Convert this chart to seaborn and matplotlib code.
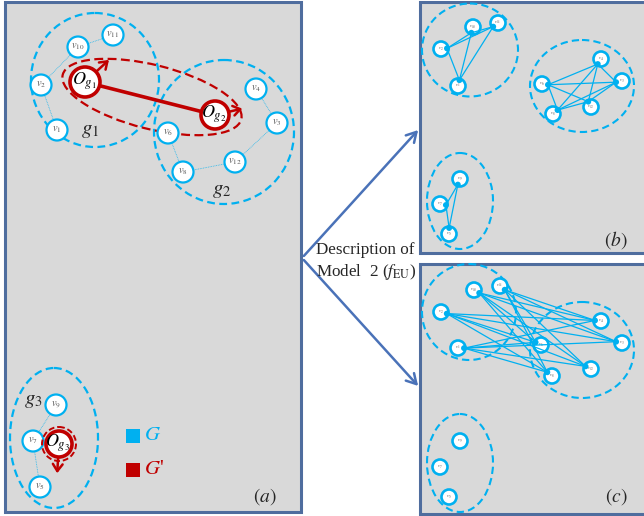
import numpy as np
import seaborn as sns
import matplotlib.pyplot as plt
from matplotlib.patches import Rectangle, Circle, Ellipse, FancyArrowPatch
from matplotlib.collections import LineCollection

sns.set_theme(style='white')
plt.rcParams['font.family'] = ['Liberation Serif', 'DejaVu Serif']
plt.rcParams['mathtext.fontset'] = 'stix'

BLUE = '#00b0f0'
RED = '#c00000'
FRAME = '#4f6d9e'
BG = '#d9d9d9'

# node positions (pixels) in panel (a), (b), (c)
names = ['1', '2', '10', '11', '4', '6', '3', '12', '8', '9', '7', '5']
group = [1, 1, 1, 1, 2, 2, 2, 2, 2, 3, 3, 3]
a_x = [57, 41, 78, 113, 256, 168, 277, 235, 183, 56, 33, 40]
a_y = [130, 85, 47, 35, 89, 133, 123, 162, 172, 405, 441, 487]
b_x = [458, 441, 473, 498, 601, 542, 622, 591, 553, 460, 440, 449]
b_y = [86, 49, 27, 23, 59, 84, 81, 107, 114, 179, 204, 234]
c_x = [458, 441, 474, 500, 601, 541, 622, 591, 552, 460, 440, 449]
c_y = [348, 312, 290, 286, 321, 345, 343, 369, 376, 441, 467, 497]

# dotted chain edges in panel (a)
a_edges = [('11', '10'), ('10', '2'), ('2', '1'), ('4', '3'), ('3', '12'),
           ('12', '8'), ('8', '6'), ('9', '7'), ('7', '5')]

# cluster outlines: centre x, centre y, width, height
a_clusters = [(95, 80, 128, 134), (224, 132, 140, 144), (54, 438, 88, 140)]
b_clusters = [(470, 50, 96, 93), (582, 86, 104, 92), (460, 201, 66, 96)]
c_clusters = [(469, 312, 94, 96), (582, 350, 104, 96), (460, 463, 66, 98)]

# group centres O_g
o_x = [85, 215, 59]
o_y = [82, 115, 444]
o_tip_x = [111, 245, 57]
o_tip_y = [58, 108, 476]

fig = plt.figure(figsize=(6.44, 5.16), dpi=100)
ax = fig.add_axes([0, 0, 1, 1])
ax.set_xlim(0, 644)
ax.set_ylim(516, 0)
ax.axis('off')

for x0, y0, x1, y1 in [(5, 2, 301, 512), (420, 2, 650, 253), (420, 264, 650, 514)]:
    ax.add_patch(Rectangle((x0, y0), x1 - x0, y1 - y0, facecolor=BG,
                           edgecolor=FRAME, lw=2.2, zorder=0))

pos_a = {n: (x, y) for n, x, y in zip(names, a_x, a_y)}
grp = dict(zip(names, group))


def draw_clusters(cl, lw):
    for cx, cy, w, h in cl:
        ax.add_patch(Ellipse((cx, cy), w, h, fill=False, edgecolor=BLUE,
                             lw=lw, ls=(0, (3.5, 2)), zorder=1))


def draw_nodes(xs, ys, r, fs, lw):
    for n, x, y in zip(names, xs, ys):
        ax.add_patch(Circle((x, y), r, facecolor='white', edgecolor=BLUE,
                            lw=lw, zorder=4))
        ax.text(x, y, r'$v_{%s}$' % n, fontsize=fs, color='#555555',
                ha='center', va='center', zorder=5)


# ---- panel (a)
draw_clusters(a_clusters, 1.6)
segs = [[pos_a[p], pos_a[q]] for p, q in a_edges]
ax.add_collection(LineCollection(segs, colors=BLUE, lw=0.6, ls=(0, (1, 1)),
                                 alpha=0.8, zorder=2))
draw_nodes(a_x, a_y, 10.5, 7.5, 1.6)

ax.add_patch(Ellipse((152, 97), 184, 64, angle=14, fill=False, edgecolor=RED,
                     lw=1.6, ls=(0, (4, 2)), zorder=3))
ax.plot([o_x[0], o_x[1]], [o_y[0], o_y[1]], color=RED, lw=2.6, zorder=3)
for i, r in enumerate([15, 14, 13]):
    ax.add_patch(Circle((o_x[i], o_y[i]), r, facecolor='white', edgecolor=RED,
                        lw=2.6, zorder=6))
    ax.add_patch(FancyArrowPatch((o_x[i], o_y[i]), (o_tip_x[i], o_tip_y[i]),
                                 arrowstyle='->,head_length=5,head_width=3.5',
                                 color=RED, lw=1.8, zorder=5))
    ax.text(o_x[i] - 1, o_y[i] - 1, r'$O_{g_{%d}}$' % (i + 1), fontsize=13,
            ha='center', va='center', color='black', zorder=7)
ax.add_patch(Circle((o_x[2], o_y[2]), 17, fill=False, edgecolor=RED,
                    lw=1.4, ls=(0, (3, 1.5)), zorder=6))

for lab, x, y in [('1', 90, 131), ('2', 222, 190), ('3', 33, 401)]:
    ax.text(x, y, r'$g_{%s}$' % lab, fontsize=15, ha='center', va='center')

sns.scatterplot(x=[133, 133], y=[436, 470], hue=['G', "G'"],
                palette=[BLUE, RED], marker='s', s=90, edgecolor='none',
                legend=False, ax=ax, zorder=6)
ax.text(144, 436, r'$G$', fontsize=15, color=BLUE, va='center')
ax.text(144, 470, r"$G$'", fontsize=15, color=RED, va='center')
ax.text(265, 497, r'$(a)$', fontsize=14, ha='center', va='center')

# ---- panels (b) and (c)


def dot_points(xs, ys, pairs, r):
    pts = {}
    for n, x, y in zip(names, xs, ys):
        nb = [q if p == n else p for p, q in pairs if n in (p, q)]
        if not nb:
            continue
        idx = [names.index(m) for m in nb]
        mx, my = np.mean([xs[k] for k in idx]), np.mean([ys[k] for k in idx])
        d = np.hypot(mx - x, my - y)
        pts[n] = (x + (mx - x) / d * r, y + (my - y) / d * r)
    return pts


b_pairs = [(p, q) for i, p in enumerate(names) for q in names[i + 1:]
           if grp[p] == grp[q]]
c_pairs = [(p, q) for p in names for q in names
           if grp[p] == 1 and grp[q] == 2]

for xs, ys, pairs, cl, lab, ly in [(b_x, b_y, b_pairs, b_clusters, '(b)', 240),
                                  (c_x, c_y, c_pairs, c_clusters, '(c)', 497)]:
    draw_clusters(cl, 1.5)
    draw_nodes(xs, ys, 7.5, 3.5, 1.9)
    pts = dot_points(xs, ys, pairs, 6)
    segs = [[pts[p], pts[q]] for p, q in pairs]
    ax.add_collection(LineCollection(segs, colors=BLUE, lw=0.9, zorder=6))
    sns.scatterplot(x=[v[0] for v in pts.values()], y=[v[1] for v in pts.values()],
                    color=BLUE, s=18, edgecolor='none', ax=ax, zorder=7)
    ax.text(616, ly, r'$%s$' % lab, fontsize=14, ha='center', va='center')

ax.set_xlim(0, 644)
ax.set_ylim(516, 0)

# ---- connecting arrows
for ty in [128, 388]:
    ax.add_patch(FancyArrowPatch((302, 258), (420, ty),
                                 arrowstyle='->,head_length=7,head_width=4',
                                 color='#4a72b8', lw=1.8, zorder=8))
ax.text(365, 250, 'Description of', fontsize=12.3, ha='center', va='center',
        zorder=9)
ax.text(366, 272, r'Model  2 ($f_{\rm EU}$)', fontsize=12.3, ha='center',
        va='center', zorder=9)

fig.savefig('out.png', dpi=100)
